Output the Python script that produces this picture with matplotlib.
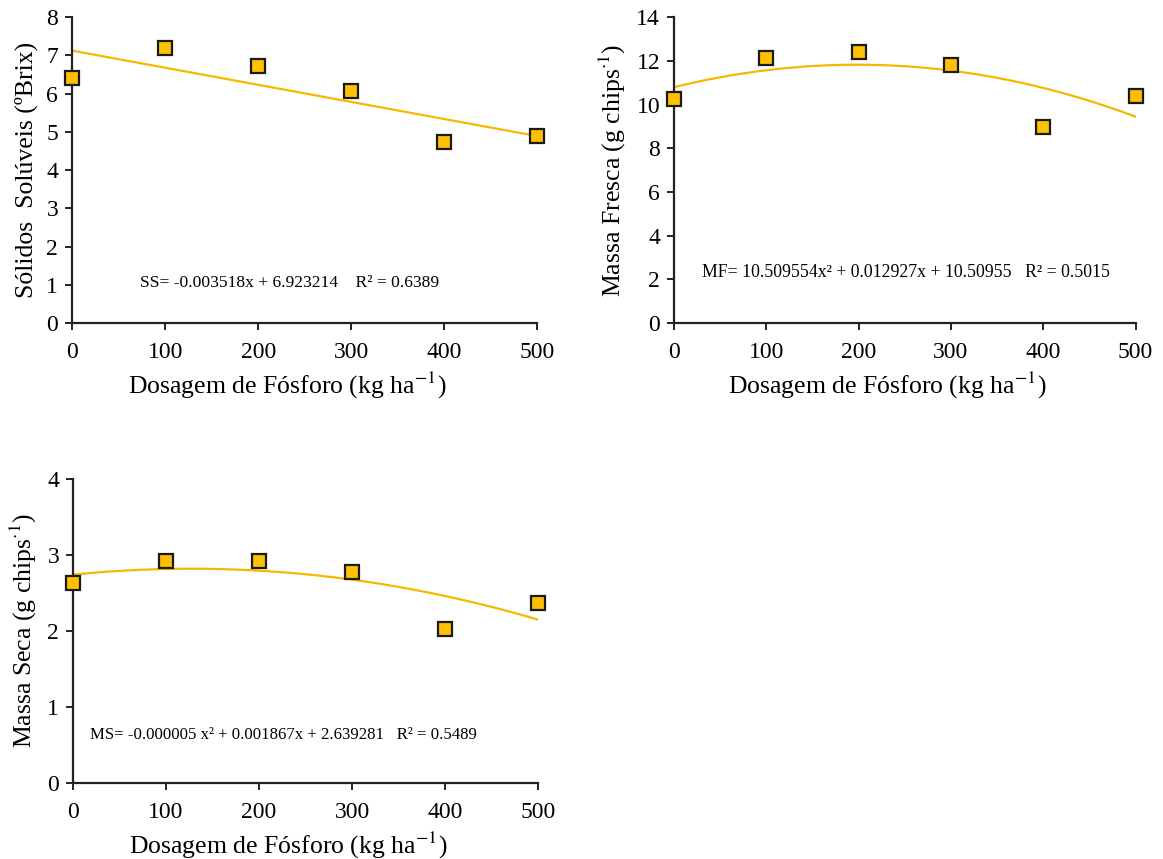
import numpy as np
import matplotlib as mpl
import matplotlib.pyplot as plt

doses = [0, 100, 200, 300, 400, 500]
solidos = [6.42, 7.20, 6.72, 6.07, 4.73, 4.90]
massa_fresca = [10.25, 12.15, 12.40, 11.80, 8.95, 10.40]
massa_seca = [2.63, 2.92, 2.92, 2.77, 2.02, 2.37]

eq_ss = "SS= -0.003518x + 6.923214    R² = 0.6389"
eq_mf = "MF= 10.509554x² + 0.012927x + 10.50955   R² = 0.5015"
eq_ms = "MS= -0.000005 x² + 0.001867x + 2.639281   R² = 0.5489"

FILL, LINE = "#FFC000", "#F5B800"

mpl.rcParams['font.family'] = 'Liberation Serif'
mpl.rcParams['mathtext.fontset'] = 'stix'
mpl.rcParams['font.size'] = 17
mpl.rcParams['axes.linewidth'] = 1.6
mpl.rcParams['axes.edgecolor'] = '#222222'


def panel(ax, y, deg, ymax, ystep, ylabel, eq, eq_pos, eq_size):
    coef = np.polyfit(doses, y, deg)
    xs = np.linspace(0, 500, 200)
    ax.plot(xs, np.polyval(coef, xs), color=LINE, lw=1.6, zorder=2)
    ax.plot(doses, y, 's', ms=10.5, mfc=FILL, mec='#1a1a1a', mew=1.6,
            clip_on=False, zorder=3)
    ax.set_xlim(0, 500)
    ax.set_ylim(0, ymax)
    ax.set_xticks(doses)
    ax.set_yticks(np.arange(0, ymax + ystep / 2, ystep))
    ax.tick_params(direction='out', length=5, width=1.4, color='#222222')
    ax.tick_params(axis='x', pad=9)
    ax.tick_params(axis='y', pad=5)
    ax.spines['right'].set_visible(False)
    ax.spines['top'].set_visible(False)
    ax.set_xlabel("Dosagem de Fósforo (kg ha$^{-1}$)", fontsize=18.5, labelpad=1)
    ax.xaxis.set_label_coords(0.462, -0.155)
    ax.set_ylabel(ylabel, fontsize=18.5, labelpad=6)
    ax.text(eq_pos[0], eq_pos[1], eq, fontsize=eq_size, ha='center', va='center')


fig = plt.figure(figsize=(11.63, 8.59), dpi=100)
ax1 = fig.add_axes([0.062, 0.624, 0.400, 0.356])
ax2 = fig.add_axes([0.5795, 0.624, 0.397, 0.356])
ax3 = fig.add_axes([0.0628, 0.0885, 0.400, 0.354])

panel(ax1, solidos, 1, 8, 1, "Sólidos  Solúveis (ºBrix)", eq_ss, (234, 1.05), 12.6)
panel(ax2, massa_fresca, 2, 14, 2, "Massa Fresca (g chips$^{\\cdot 1}$)", eq_mf, (251, 2.3), 12.8)
panel(ax3, massa_seca, 2, 4, 1, "Massa Seca (g chips$^{\\cdot 1}$)", eq_ms, (226, 0.63), 12.1)

fig.savefig("out.png", dpi=100)
